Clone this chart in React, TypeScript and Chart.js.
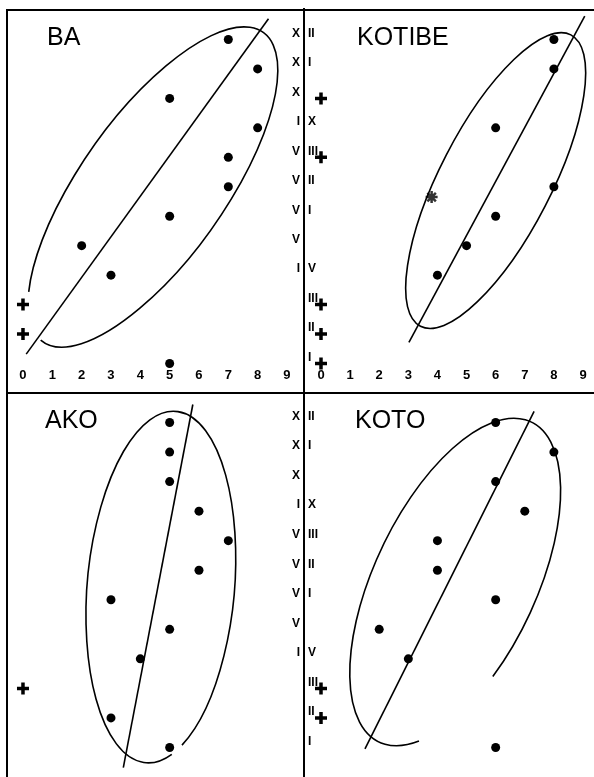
import React, { useEffect, useRef } from "react";
import { Chart, registerables } from "chart.js";

Chart.register(...registerables);

// ---- data (months I..XII on the y axis, value 0..9 on the x axis) ----
const months = [1, 2, 3, 4, 5, 6, 7, 8, 9, 10, 11, 12];
const xTickLabels = ["0", "1", "2", "3", "4", "5", "6", "7", "8", "9"];
// Roman numerals are split by the central divider: left part / right part
const romanLeftPart = ["", "", "", "I", "V", "V", "V", "V", "I", "X", "X", "X"];
const romanRightPart = ["I", "II", "III", "V", "", "I", "II", "III", "X", "", "I", "II"];
const crossValue = 0;

// values per month I..XII (null = no dot)
const baValues = [5, null, null, 3, 2, 5, 7, 7, 8, 5, 8, 7];
const baCrossMonths = [2, 3];
const baLine = [{ x: 0.11, y: 1.32 }, { x: 8.37, y: 12.7 }];
const baEllipse = { cx: 4.43, cy: 6.99, a: 6.46, b: 2.45, angle: 54.5, openFrom: 182, openTo: 214 };

const kotibeValues = [null, null, null, 4, 5, 6, 8, null, 6, null, 8, 8];
const kotibeCrossMonths = [1, 2, 3, 8, 10];
const kotibeLine = [{ x: 3.02, y: 1.72 }, { x: 9.06, y: 12.79 }];
const kotibeEllipse = { cx: 6.0, cy: 7.21, a: 5.6, b: 1.9, angle: 62.7, openFrom: 0, openTo: 0 };
const kotibeSmudge = [{ x: 3.8, y: 6.65 }];

const akoValues = [5, 3, null, 4, 5, 3, 6, 7, 6, 5, 5, 5];
const akoCrossMonths = [3];
const akoLine = [{ x: 3.42, y: 0.32 }, { x: 5.79, y: 12.61 }];
const akoEllipse = { cx: 4.7, cy: 6.43, a: 5.99, b: 2.5, angle: 85.1, openFrom: 152, openTo: 160 };

const kotoValues = [6, null, null, 3, 2, 6, 4, 4, 7, 6, 8, 6];
const kotoCrossMonths = [2, 3];
const kotoLine = [{ x: 1.51, y: 0.95 }, { x: 7.32, y: 12.38 }];
const kotoEllipse = { cx: 4.61, cy: 6.6, a: 6.04, b: 2.76, angle: 64.6, openFrom: 113, openTo: 154 };

type Ell = { cx: number; cy: number; a: number; b: number; angle: number; openFrom: number; openTo: number };

type Panel = {
  name: string;
  side: "left" | "right";
  box: { left: number; top: number; width: number; height: number };
  titleX: number;
  xMin: number;
  xMax: number;
  showXTicks: boolean;
  values: (number | null)[];
  crossMonths: number[];
  line: { x: number; y: number }[];
  ellipse: Ell;
  extra?: { x: number; y: number }[];
};

const panels: Panel[] = [
  {
    name: "BA", side: "left", box: { left: 7, top: 10, width: 297, height: 383 }, titleX: 40,
    xMin: -0.545, xMax: 9.58, showXTicks: true,
    values: baValues, crossMonths: baCrossMonths, line: baLine, ellipse: baEllipse,
  },
  {
    name: "KOTIBE", side: "right", box: { left: 304, top: 10, width: 290, height: 383 }, titleX: 53,
    xMin: -0.584, xMax: 9.378, showXTicks: true,
    values: kotibeValues, crossMonths: kotibeCrossMonths, line: kotibeLine, ellipse: kotibeEllipse,
    extra: kotibeSmudge,
  },
  {
    name: "AKO", side: "left", box: { left: 7, top: 393, width: 297, height: 384 }, titleX: 38,
    xMin: -0.545, xMax: 9.58, showXTicks: false,
    values: akoValues, crossMonths: akoCrossMonths, line: akoLine, ellipse: akoEllipse,
  },
  {
    name: "KOTO", side: "right", box: { left: 304, top: 393, width: 290, height: 384 }, titleX: 51,
    xMin: -0.584, xMax: 9.378, showXTicks: false,
    values: kotoValues, crossMonths: kotoCrossMonths, line: kotoLine, ellipse: kotoEllipse,
  },
];

function makeOverlay(p: Panel) {
  return {
    id: "overlay-" + p.name,
    afterDatasetsDraw(chart: any) {
      const ctx = chart.ctx;
      const xs = chart.scales.x;
      const ys = chart.scales.y;
      const area = chart.chartArea;
      ctx.save();
      // ellipse
      const e = p.ellipse;
      const ux = Math.abs(xs.getPixelForValue(1) - xs.getPixelForValue(0));
      const uy = Math.abs(ys.getPixelForValue(1) - ys.getPixelForValue(0));
      const u = (ux + uy) / 2;
      const px = xs.getPixelForValue(e.cx);
      const py = ys.getPixelForValue(e.cy);
      ctx.beginPath();
      const rot = (-e.angle * Math.PI) / 180;
      if (e.openFrom === e.openTo) {
        ctx.ellipse(px, py, e.a * u, e.b * u, rot, 0, Math.PI * 2);
      } else {
        ctx.ellipse(px, py, e.a * u, e.b * u, rot, (e.openTo * Math.PI) / 180, ((e.openFrom + 360) * Math.PI) / 180);
      }
      ctx.strokeStyle = "#000";
      ctx.lineWidth = 1.6;
      ctx.stroke();
      ctx.fillStyle = "#000";
      // x tick labels
      if (p.showXTicks) {
        ctx.font = "bold 13px 'Liberation Sans', Arial, sans-serif";
        ctx.textAlign = "center";
        ctx.textBaseline = "middle";
        const yPix = ys.getPixelForValue(0) - 18;
        xTickLabels.forEach((lab, i) => {
          ctx.fillText(lab, xs.getPixelForValue(i), yPix);
        });
      }
      // month labels (split Roman numerals)
      const labels = p.side === "left" ? romanLeftPart : romanRightPart;
      ctx.font = "bold 12px 'Liberation Sans', Arial, sans-serif";
      ctx.textBaseline = "middle";
      ctx.textAlign = p.side === "left" ? "right" : "left";
      const lx = p.side === "left" ? area.right - 4 : area.left + 4;
      months.forEach((m, i) => {
        const lab = labels[i];
        if (lab) ctx.fillText(lab, lx, ys.getPixelForValue(m) - 6);
      });
      // title
      ctx.font = "25px 'Liberation Sans', Arial, sans-serif";
      ctx.textAlign = "left";
      ctx.textBaseline = "alphabetic";
      ctx.fillText(p.name, p.titleX, 35);
      ctx.restore();
    },
  };
}

function PanelChart({ p }: { p: Panel }) {
  const ref = useRef<HTMLCanvasElement | null>(null);
  useEffect(() => {
    if (!ref.current) return;
    const dots = months
      .map((m, i) => ({ x: p.values[i], y: m }))
      .filter((d) => d.x !== null) as { x: number; y: number }[];
    const crosses = p.crossMonths.map((m) => ({ x: crossValue, y: m }));
    const datasets: any[] = [
      {
        data: dots,
        pointStyle: "circle",
        pointRadius: 4.5,
        pointBackgroundColor: "#000",
        pointBorderColor: "#000",
        pointBorderWidth: 0,
      },
      {
        data: crosses,
        pointStyle: "cross",
        pointRadius: 6,
        pointBorderColor: "#000",
        pointBorderWidth: 3.5,
      },
      {
        type: "line",
        data: p.line,
        showLine: true,
        borderColor: "#000",
        borderWidth: 1.6,
        pointRadius: 0,
        fill: false,
      },
    ];
    if (p.extra) {
      datasets.push({
        data: p.extra,
        pointStyle: "star",
        pointRadius: 6,
        pointBorderColor: "#333",
        pointBorderWidth: 2.5,
      });
    }
    const chart = new Chart(ref.current, {
      type: "scatter",
      data: { datasets },
      options: {
        animation: false,
        responsive: false,
        maintainAspectRatio: false,
        events: [],
        layout: { padding: 0, autoPadding: false },
        plugins: { legend: { display: false }, tooltip: { enabled: false } },
        scales: {
          x: { type: "linear", min: p.xMin, max: p.xMax, display: false },
          y: { type: "linear", min: 0, max: 13, display: false },
        },
      } as any,
      plugins: [makeOverlay(p)],
    });
    return () => chart.destroy();
  }, [p]);
  return (
    <canvas
      ref={ref}
      width={p.box.width}
      height={p.box.height}
      style={{
        position: "absolute",
        left: p.box.left,
        top: p.box.top,
        width: p.box.width,
        height: p.box.height,
        display: "block",
      }}
    />
  );
}

const lineStyle = (l: number, t: number, w: number, h: number): React.CSSProperties => ({
  position: "absolute",
  left: l,
  top: t,
  width: w,
  height: h,
  background: "#000",
  zIndex: 2,
});

export default function App() {
  return (
    <div style={{ position: "absolute", left: 0, top: 0, width: 594, height: 777, background: "#fff", overflow: "hidden" }}>
      {panels.map((p) => (
        <PanelChart key={p.name} p={p} />
      ))}
      <div style={lineStyle(6, 9, 588, 2)} />
      <div style={lineStyle(6, 9, 2, 768)} />
      <div style={lineStyle(6, 392, 588, 2)} />
      <div style={lineStyle(303, 8, 2, 769)} />
    </div>
  );
}
